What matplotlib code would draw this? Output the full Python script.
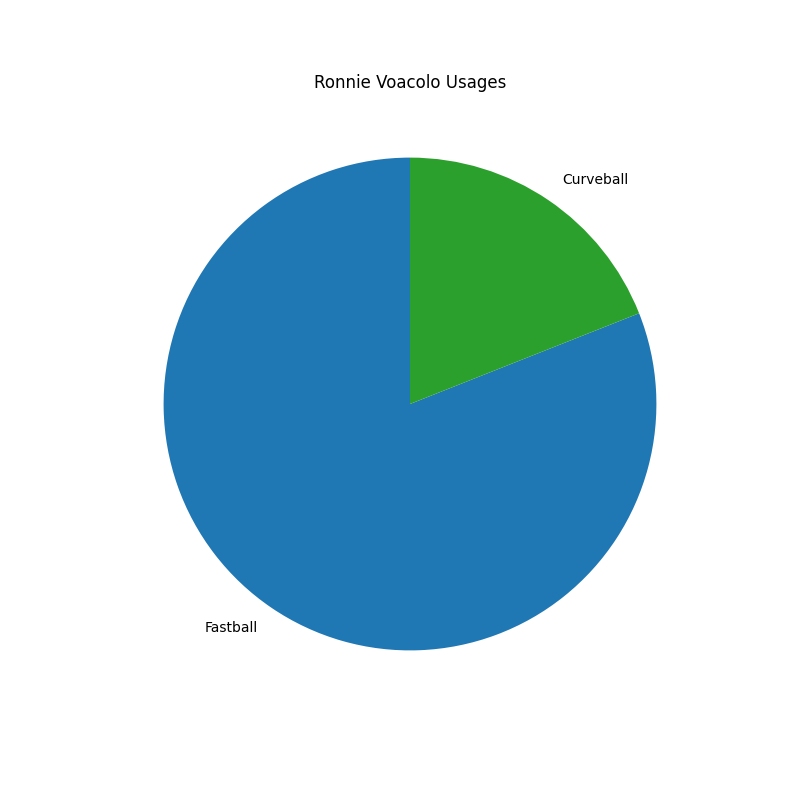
import matplotlib
matplotlib.use("Agg")
import matplotlib.pyplot as plt

PITCHES = ["Fastball", "Curveball"]
USAGE = [81, 19]
COLORS = ["#1f77b4", "#2ca02c"]

fig, ax = plt.subplots(figsize=(8, 8), dpi=100)
ax.pie(USAGE, labels=PITCHES, colors=COLORS, startangle=90)
ax.set_title("Ronnie Voacolo Usages")
fig.savefig("out.png")
